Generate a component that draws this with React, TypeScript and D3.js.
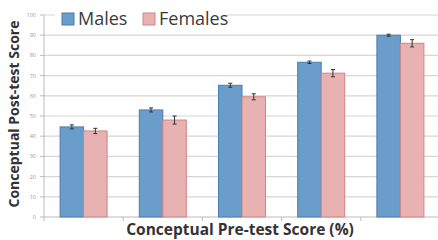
import * as d3 from "d3";

const categories = ["0-20", "20-40", "40-60", "60-80", "80-100"];
const males = [44.6, 53, 65.2, 76.6, 90];
const females = [42.6, 48, 59.5, 71.2, 86];
const maleErr = [1, 1, 1, 0.6, 0.5];
const femaleErr = [1.3, 2, 1.5, 1.8, 1.8];
const yTicks = [0, 10, 20, 30, 40, 50, 60, 70, 80, 90, 100];

const W = 438;
const H = 240;
const x0 = 44;
const x1 = 440;
const yTop = 15;
const yBottom = 217;

const App = () => {
  const x = d3.scaleBand<string>().domain(categories).range([x0, x1]);
  const y = d3.scaleLinear().domain([0, 100]).range([yBottom, yTop]);
  const barW = 23.5;

  const series = [
    { name: "Males", vals: males, err: maleErr, fill: "#6b9dca", stroke: "#4a7db1", off: -barW },
    { name: "Females", vals: females, err: femaleErr, fill: "#e7b2b1", stroke: "#cf8584", off: 0 },
  ];

  return (
    <svg
      width={W}
      height={H}
      style={{ position: "absolute", left: 0, top: 0, background: "#fff" }}
      fontFamily="'Open Sans', sans-serif"
    >
      {yTicks.map((t) => (
        <g key={t}>
          {t > 0 && (
            <line x1={x0} x2={W} y1={y(t)} y2={y(t)} stroke="#d6d6d6" strokeWidth={1.2} />
          )}
          <line x1={x0 - 4} x2={x0} y1={y(t)} y2={y(t)} stroke="#bbb" />
          <text x={x0 - 8} y={y(t)} dy="0.35em" textAnchor="end" fontSize={5.5} fill="#999">
            {t}
          </text>
        </g>
      ))}
      <line x1={x0} x2={x0} y1={yTop} y2={yBottom} stroke="#bbb" />
      <line x1={x0} x2={W} y1={yBottom} y2={yBottom} stroke="#bbb" />
      {categories.map((c) => (
        <line key={c} x1={x(c)!} x2={x(c)!} y1={yBottom} y2={yBottom + 4} stroke="#bbb" />
      ))}

      {series.map((s) =>
        categories.map((c, i) => {
          const cx = x(c)! + x.bandwidth() / 2;
          const bx = cx + s.off;
          const v = s.vals[i];
          const e = s.err[i];
          const mid = bx + barW / 2;
          return (
            <g key={s.name + c}>
              <rect
                x={bx}
                y={y(v)}
                width={barW}
                height={yBottom - y(v)}
                fill={s.fill}
                stroke={s.stroke}
                strokeWidth={1}
              />
              <line x1={mid} x2={mid} y1={y(v + e)} y2={y(v - e)} stroke="#333" strokeWidth={1} />
              <line x1={mid - 2} x2={mid + 2} y1={y(v + e)} y2={y(v + e)} stroke="#333" strokeWidth={1} />
              <line x1={mid - 2} x2={mid + 2} y1={y(v - e)} y2={y(v - e)} stroke="#333" strokeWidth={1} />
            </g>
          );
        })
      )}

      <rect x={55} y={3} width={172} height={26} fill="#fff" />
      <rect x={62} y={13} width={12} height={12} fill="#6b9dca" stroke="#4a7db1" />
      <text x={78} y={25} fontSize={18} fill="#3a3a3a">Males</text>
      <rect x={143} y={13} width={12} height={12} fill="#e7b2b1" stroke="#cf8584" />
      <text x={159} y={25} fontSize={18} fill="#3a3a3a">Females</text>

      <text
        transform={`translate(19,${(yTop + yBottom) / 2 - 2}) rotate(-90)`}
        textAnchor="middle"
        fontSize={14}
        fontWeight="bold"
        fill="#333"
      >
        Conceptual Post-test Score
      </text>
      <text x={240} y={235} textAnchor="middle" fontSize={15.5} fontWeight="bold" fill="#333">
        Conceptual Pre-test Score (%)
      </text>
    </svg>
  );
};

export default App;
